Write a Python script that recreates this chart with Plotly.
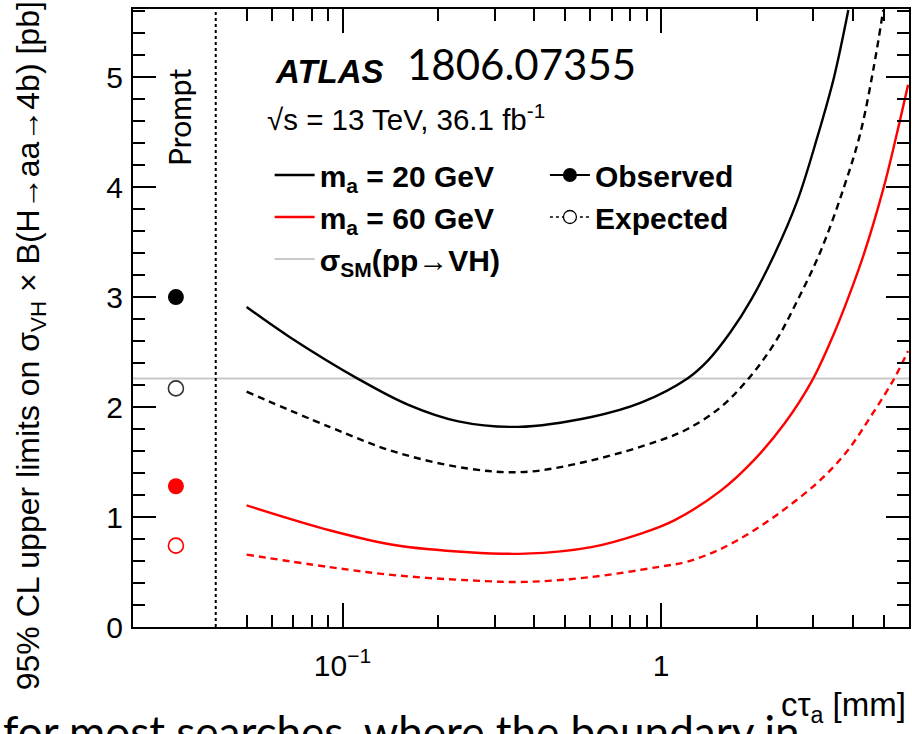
import math
import plotly.graph_objects as go

# ---------------- data ----------------
# m_a = 20 GeV, observed
obs20_x = [0.050, 0.068, 0.113, 0.161, 0.231, 0.356, 0.604, 0.865, 1.21, 1.40, 1.65, 1.92, 2.27, 2.68, 3.09, 3.49, 3.87]
obs20_y = [2.91, 2.64, 2.25, 2.02, 1.87, 1.82, 1.91, 2.04, 2.26, 2.42, 2.68, 2.98, 3.39, 3.88, 4.45, 5.00, 5.61]
# m_a = 20 GeV, expected
exp20_x = [0.050, 0.091, 0.147, 0.249, 0.374, 0.604, 0.975, 1.21, 1.54, 1.87, 2.27, 2.68, 3.17, 3.75, 4.22, 4.65, 4.98]
exp20_y = [2.14, 1.82, 1.59, 1.44, 1.41, 1.515, 1.69, 1.80, 2.00, 2.25, 2.58, 2.97, 3.42, 4.00, 4.49, 5.09, 5.61]
# m_a = 60 GeV, observed
obs60_x = [0.050, 0.091, 0.147, 0.249, 0.374, 0.604, 0.865, 1.10, 1.54, 1.96, 2.44, 2.99, 3.49, 3.84, 4.33, 5.00, 5.50, 5.96]
obs60_y = [1.106, 0.88, 0.743, 0.68, 0.667, 0.727, 0.85, 0.97, 1.24, 1.52, 1.85, 2.25, 2.67, 2.97, 3.39, 4.00, 4.49, 4.93]
# m_a = 60 GeV, expected
exp60_x = [0.050, 0.091, 0.147, 0.249, 0.374, 0.604, 0.975, 1.21, 1.54, 1.96, 2.49, 3.17, 3.84, 4.54, 5.37, 5.96]
exp60_y = [0.658, 0.545, 0.47, 0.425, 0.41, 0.455, 0.545, 0.595, 0.71, 0.88, 1.09, 1.34, 1.60, 1.91, 2.25, 2.51]

# prompt limits
prompt_x = 0.03
prompt_obs20 = 3.00
prompt_exp20 = 2.17
prompt_obs60 = 1.28
prompt_exp60 = 0.74

sigma_sm = 2.26          # sigma_SM(pp->VH) [pb]
prompt_boundary = 0.04   # dotted separator

x_range = [0.022, 6.0]
y_range = [0, 5.62]

x_major = [0.1, 1]
x_major_text = ["10<sup>\u22121</sup>", "1"]
x_minor = [0.05, 0.06, 0.07, 0.08, 0.09, 0.2, 0.3, 0.4, 0.5, 0.6, 0.7, 0.8, 0.9, 2, 3, 4, 5]

# ---------------- figure ----------------
W, H = 912, 734
L, R, T, B = 133, 1, 9, 107
pw, ph = W - L - R, H - T - B


def px(xpix):
    return (xpix - L) / pw


def py(ypix):
    return (H - B - ypix) / ph


FONT = "Liberation Sans, Arial, Helvetica, sans-serif"
SLIDE = "Lato, Open Sans, sans-serif"
RED = "#ff0000"
BLK = "#000000"
GRAY = "#c8c8c8"
LW = 2.4
DASH = "7px,5px"

fig = go.Figure()

fig.add_trace(go.Scatter(x=x_range, y=[sigma_sm, sigma_sm], mode="lines",
                         line=dict(color=GRAY, width=2.2),
                         name="\u03c3<sub>SM</sub>(pp\u2192VH)", legend="legend", legendrank=3))

fig.add_trace(go.Scatter(x=obs20_x, y=obs20_y, mode="lines",
                         line=dict(color=BLK, width=LW, shape="spline", smoothing=1.0),
                         name="m<sub>a</sub> = 20 GeV", legend="legend", legendrank=1))
fig.add_trace(go.Scatter(x=exp20_x, y=exp20_y, mode="lines",
                         line=dict(color=BLK, width=LW, dash=DASH, shape="spline", smoothing=1.0),
                         showlegend=False))
fig.add_trace(go.Scatter(x=obs60_x, y=obs60_y, mode="lines",
                         line=dict(color=RED, width=LW, shape="spline", smoothing=1.0),
                         name="m<sub>a</sub> = 60 GeV", legend="legend", legendrank=2))
fig.add_trace(go.Scatter(x=exp60_x, y=exp60_y, mode="lines",
                         line=dict(color=RED, width=LW, dash=DASH, shape="spline", smoothing=1.0),
                         showlegend=False))

# prompt points
fig.add_trace(go.Scatter(x=[prompt_x, prompt_x], y=[prompt_obs20, prompt_obs60], mode="markers",
                         marker=dict(size=16, color=[BLK, RED], line=dict(width=0)), showlegend=False))
fig.add_trace(go.Scatter(x=[prompt_x, prompt_x], y=[prompt_exp20, prompt_exp60], mode="markers",
                         marker=dict(size=15, color="white", line=dict(width=1.6, color=["#333333", RED])),
                         showlegend=False))

# legend-only entries for observed / expected style
fig.add_trace(go.Scatter(x=[None], y=[None], mode="lines+markers", name="Observed",
                         line=dict(color=BLK, width=2), marker=dict(size=14, color=BLK),
                         legend="legend2", legendrank=1))
fig.add_trace(go.Scatter(x=[None], y=[None], mode="lines+markers", name="Expected",
                         line=dict(color=BLK, width=1.5, dash="3px,3px"),
                         marker=dict(size=13, color="white", line=dict(color=BLK, width=1.3)),
                         legend="legend2", legendrank=2))

# dotted separator between prompt and displaced
fig.add_shape(type="line", xref="x", yref="paper", x0=prompt_boundary, x1=prompt_boundary, y0=0, y1=1,
              line=dict(color=BLK, width=2, dash="dot"))

axis_common = dict(showline=True, linecolor=BLK, linewidth=2, mirror="ticks", ticks="inside",
                   tickcolor=BLK, tickwidth=1.5, showgrid=False, zeroline=False,
                   tickfont=dict(family=FONT, size=30, color=BLK))

fig.update_xaxes(type="log", range=[math.log10(x_range[0]), math.log10(x_range[1])],
                 tickmode="array", tickvals=x_major, ticktext=x_major_text, ticklen=24,
                 ticklabelstandoff=11,
                 minor=dict(tickmode="array", tickvals=x_minor, ticks="inside", ticklen=12,
                            tickcolor=BLK, tickwidth=1.5, showgrid=False),
                 **axis_common)
fig.update_yaxes(range=y_range, tickmode="linear", tick0=0, dtick=1, ticklen=23,
                 ticklabelstandoff=2,
                 minor=dict(dtick=0.2, ticks="inside", ticklen=12, tickcolor=BLK, tickwidth=1.5, showgrid=False),
                 **axis_common)

ann = []
# y title
ann.append(dict(text="95% CL upper limits on \u03c3<sub>VH</sub> \u00d7 B(H\u2192aa\u21924b) [pb]",
                x=px(30), y=py(346), xref="paper", yref="paper", textangle=-90, showarrow=False,
                xanchor="center", yanchor="middle", font=dict(family=FONT, size=32, color=BLK)))
# slide text at the bottom (cut by the crop)
ann.append(dict(text="for most searches, where the boundary in", x=0, y=py(731), xref="paper", yref="paper",
                xshift=-L + 1, showarrow=False, xanchor="left", yanchor="middle",
                font=dict(family=SLIDE, size=44, color=BLK)))
# x title
ann.append(dict(text="c\u03c4<sub>a</sub> [mm]", x=px(910), y=py(707), xref="paper", yref="paper",
                showarrow=False, xanchor="right", yanchor="middle", font=dict(family=FONT, size=33, color=BLK)))
# ATLAS label
ann.append(dict(text="<b><i>ATLAS</i></b>", x=px(273), y=py(71), xref="paper", yref="paper",
                showarrow=False, xanchor="left", yanchor="middle", font=dict(family=FONT, size=33, color=BLK)))
ann.append(dict(text="1806.07355", x=px(406), y=py(64), xref="paper", yref="paper",
                showarrow=False, xanchor="left", yanchor="middle", font=dict(family=SLIDE, size=42, color=BLK)))
ann.append(dict(text="\u221as = 13 TeV, 36.1 fb<sup>-1</sup>", x=px(265), y=py(117), xref="paper", yref="paper",
                showarrow=False, xanchor="left", yanchor="middle", font=dict(family=FONT, size=29.5, color=BLK)))
# Prompt
ann.append(dict(text="Prompt", x=px(179), y=py(117), xref="paper", yref="paper", textangle=-90,
                showarrow=False, xanchor="center", yanchor="middle", font=dict(family=SLIDE, size=30, color=BLK)))

legend_font = dict(family=FONT, size=30, color=BLK, weight="bold")
fig.update_layout(
    width=W, height=H, margin=dict(l=L, r=R, t=T, b=B, pad=0),
    paper_bgcolor="white", plot_bgcolor="white",
    annotations=ann,
    legend=dict(x=px(270), y=py(149), xanchor="left", yanchor="top", bgcolor="rgba(0,0,0,0)",
                font=legend_font, traceorder="normal", itemwidth=40),
    legend2=dict(x=px(546), y=py(149), xanchor="left", yanchor="top", bgcolor="rgba(0,0,0,0)",
                 font=legend_font, traceorder="normal", itemwidth=40),
)

fig.write_html("out.html")
